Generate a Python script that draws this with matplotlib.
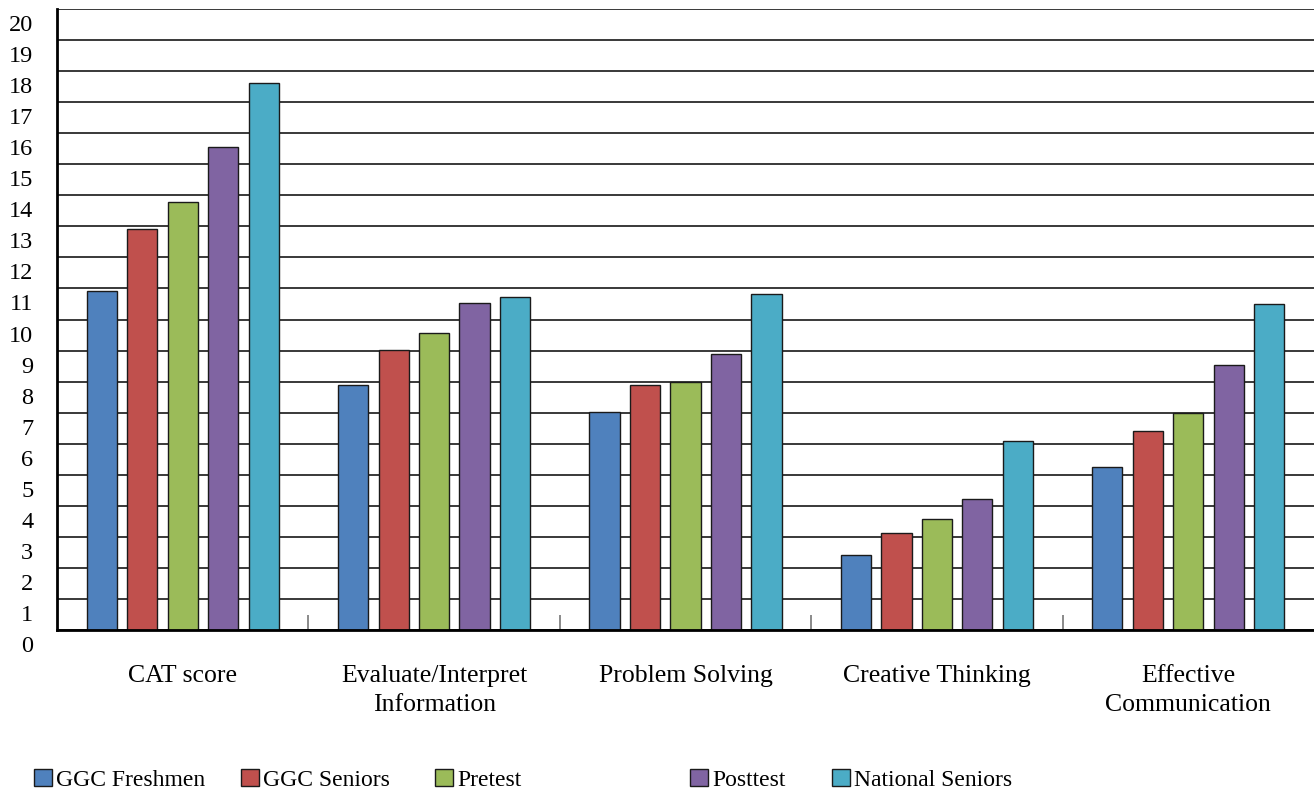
import matplotlib
matplotlib.use("Agg")
from matplotlib import pyplot as plt
from matplotlib import transforms
from matplotlib.patches import Patch
import numpy as np

categories = ["CAT score", "Evaluate/Interpret\nInformation", "Problem Solving",
              "Creative Thinking", "Effective\nCommunication"]
series_names = ["GGC Freshmen", "GGC Seniors", "Pretest", "Posttest", "National Seniors"]
ggc_freshmen = [10.93, 7.90, 7.01, 2.42, 5.26]
ggc_seniors = [12.92, 9.03, 7.89, 3.11, 6.40]
pretest = [13.79, 9.55, 8.00, 3.56, 6.99]
posttest = [15.55, 10.54, 8.88, 4.21, 8.54]
national_seniors = [17.63, 10.73, 10.81, 6.10, 10.49]
y_ticks = list(range(0, 21))

colors = ["#4F81BD", "#C0504D", "#9BBB59", "#8064A2", "#4BACC6"]
series = [ggc_freshmen, ggc_seniors, pretest, posttest, national_seniors]

plt.rcParams['font.family'] = ['Liberation Serif', 'DejaVu Serif']

fig = plt.figure(figsize=(13.14, 7.95), dpi=100)
ax = fig.add_axes([57 / 1314, 1 - 630 / 795, 1 - 57 / 1314, (630 - 9) / 795])

x = np.arange(len(categories))
step = 0.161
width = 0.12
for i, (vals, col) in enumerate(zip(series, colors)):
    ax.bar(x + (i - 2) * step, vals, width, color=col, edgecolor='#1a1a1a',
           linewidth=1.0, zorder=3)

ax.set_xlim(-0.5, len(categories) - 0.5)
ax.set_ylim(0, 20)
ax.set_yticks(y_ticks)
ax.set_yticklabels([str(t) for t in y_ticks], fontsize=17.5)
ax.yaxis.grid(True, color='#2a2a2a', linewidth=1.3)
ax.set_axisbelow(True)
ax.tick_params(axis='y', length=0, pad=17)

# labels sit a bit below their gridline in the original
off = transforms.ScaledTranslation(0, -14 / 100, fig.dpi_scale_trans)
for lab in ax.get_yticklabels():
    lab.set_transform(lab.get_transform() + off)

ax.set_xticks(x)
ax.set_xticklabels(categories, fontsize=18.5, linespacing=1.45)
ax.tick_params(axis='x', which='major', length=0, pad=25)
ax.set_xticks(np.arange(0.5, len(categories) - 0.5), minor=True)
ax.tick_params(axis='x', which='minor', direction='in', length=11, color='#777777', width=1.2)

for s in ['top', 'right']:
    ax.spines[s].set_visible(False)
ax.spines['left'].set_linewidth(2)
ax.spines['bottom'].set_linewidth(2)
ax.spines['bottom'].set_zorder(4)

# legend entries laid out along the bottom
leg_x = [34, 241, 435, 690, 832]
for name, col, lx in zip(series_names, colors, leg_x):
    h = Patch(facecolor=col, edgecolor='#1a1a1a', linewidth=1.0)
    fig.legend(handles=[h], labels=[name], loc='center left',
               bbox_to_anchor=(lx / 1314, 1 - 780 / 795), frameon=False,
               fontsize=17, handlelength=0.75, handleheight=0.75,
               handletextpad=0.2, borderpad=0, borderaxespad=0)

plt.savefig("out.png", dpi=100)
